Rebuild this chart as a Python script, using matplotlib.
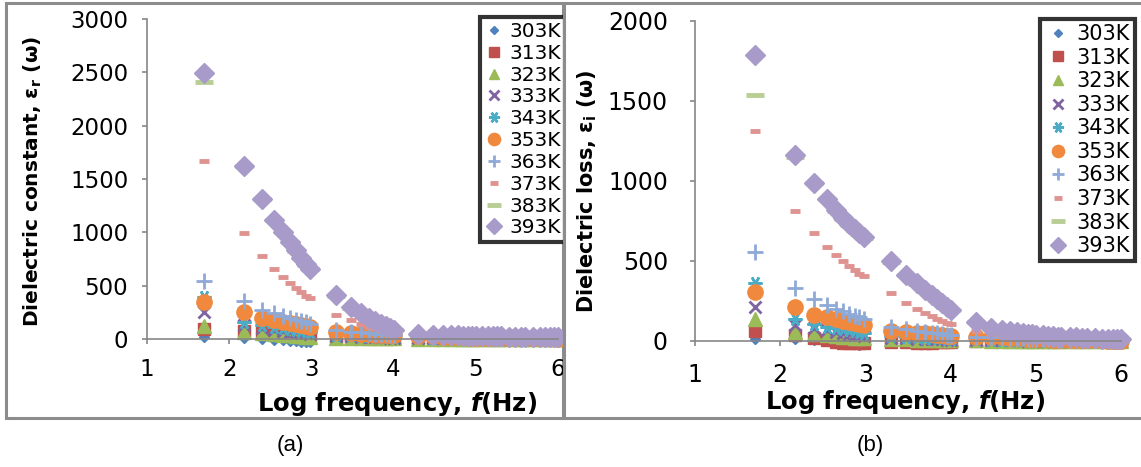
import matplotlib.pyplot as plt
import numpy as np
from matplotlib.patches import Rectangle

plt.rcParams['font.family'] = ['DejaVu Sans']
plt.rcParams['mathtext.fontset'] = 'dejavusans'

W, H = 1141, 467

# measurement frequencies (Hz)
freq = [50, 150, 250, 350, 450, 550, 650, 750, 850, 950,
        2e3, 3e3, 4e3, 5e3, 6e3, 7e3, 8e3, 9e3, 10e3,
        20e3, 30e3, 40e3, 50e3, 60e3, 70e3, 80e3, 90e3, 100e3, 120e3, 140e3, 160e3,
        180e3, 200e3, 250e3, 300e3, 350e3, 400e3, 500e3, 600e3, 700e3, 800e3, 900e3, 1e6]

temps = ["303K", "313K", "323K", "333K", "343K", "353K", "363K", "373K", "383K", "393K"]

# dielectric constant eps_r, panel (a)
er_303 = [15, 8, 0, -8, -12, -18, -22, -28, -30, -25,
          5, 3, 2, 1, 0, -2, -3, -5, -5,
          3, 3, 2, 2, 2, 2, 2, 1, 1, 1, 1, 1, 1, 1, 1, 1, 0, 0, 0, 0, 0, 0, 0, 0]
er_313 = [95, 75, 62, 55, 48, 44, 40, 36, 33, 30,
          20, 17, 15, 13, 12, 11, 10, 9, 8,
          6, 5, 5, 4, 4, 4, 3, 3, 3, 3, 3, 2, 2, 2, 2, 2, 2, 2, 1, 1, 1, 1, 1, 1]
er_323 = [120, 70, 52, 44, 38, 33, 29, 26, 23, 20,
          12, 10, 9, 8, 7, 7, 6, 6, 5,
          4, 4, 3, 3, 3, 3, 2, 2, 2, 2, 2, 2, 2, 2, 1, 1, 1, 1, 1, 1, 1, 1, 1, 1]
er_333 = [250, 130, 100, 88, 78, 70, 64, 58, 54, 50,
          30, 25, 22, 20, 18, 16, 15, 14, 13,
          10, 9, 8, 7, 7, 6, 6, 5, 5, 5, 4, 4, 4, 4, 3, 3, 3, 3, 3, 2, 2, 2, 2, 2]
er_343 = [395, 160, 130, 112, 100, 90, 84, 78, 73, 68,
          40, 35, 31, 28, 25, 23, 22, 20, 19,
          15, 13, 12, 11, 10, 9, 9, 8, 8, 7, 7, 6, 6, 6, 5, 5, 5, 4, 4, 4, 4, 3, 3, 3]
er_353 = [345, 255, 200, 180, 163, 150, 140, 130, 120, 112,
          65, 56, 50, 46, 42, 39, 37, 35, 33,
          28, 25, 22, 20, 18, 16, 15, 14, 13, 12, 11, 10, 10, 9, 8, 8, 7, 7, 6, 6, 5, 5, 5, 4]
er_363 = [545, 355, 272, 240, 215, 195, 180, 167, 155, 145,
          85, 70, 62, 56, 50, 46, 43, 40, 37,
          30, 27, 25, 23, 21, 20, 19, 18, 17, 16, 15, 14, 14, 13, 12, 12, 11, 11, 10, 10, 9, 9, 9, 8]
er_373 = [1670, 990, 780, 655, 580, 525, 480, 440, 400, 385,
          225, 175, 140, 115, 100, 88, 78, 68, 60,
          35, 28, 24, 21, 19, 17, 16, 15, 14, 13, 12, 11, 11, 10, 9, 9, 8, 8, 7, 7, 6, 6, 6, 5]
er_383 = [2410, 1620, 1310, 1120, 1000, 905, 825, 755, 695, 655,
          405, 295, 235, 195, 168, 145, 125, 105, 85,
          48, 41, 37, 34, 32, 30, 29, 28, 27, 26, 25, 24, 24, 23, 22, 21, 21, 20, 19, 19, 18, 18, 17, 17]
er_393 = [2490, 1620, 1310, 1120, 1000, 910, 830, 760, 700, 660,
          410, 300, 240, 200, 170, 145, 125, 105, 85,
          50, 42, 38, 35, 33, 31, 30, 29, 28, 27, 26, 25, 25, 24, 23, 22, 22, 21, 20, 20, 19, 19, 18, 18]

# dielectric loss eps_i, panel (b)
ei_303 = [15, 10, 5, 0, -5, -10, -15, -20, -25, -20,
          5, 3, 2, 0, -2, -3, -4, -5, -5,
          2, 2, 2, 1, 1, 1, 1, 1, 1, 1, 1, 0, 0, 0, 0, 0, 0, 0, 0, 0, 0, 0, 0, 0]
ei_313 = [60, 40, 20, 5, -5, -10, -12, -15, -15, -15,
          -5, -8, -12, -15, -10, -8, -6, -5, -5,
          -3, -2, -2, -1, -1, -1, -1, -1, 0, 0, 0, 0, 0, 0, 0, 0, 0, 0, 0, 0, 0, 0, 0, 0]
ei_323 = [140, 55, 42, 35, 30, 26, 23, 20, 18, 16,
          12, 10, 9, 8, 7, 6, 6, 5, 5,
          4, 3, 3, 3, 2, 2, 2, 2, 2, 2, 1, 1, 1, 1, 1, 1, 1, 1, 1, 1, 1, 1, 1, 1]
ei_333 = [215, 100, 80, 68, 58, 50, 45, 40, 36, 33,
          20, 17, 15, 13, 12, 11, 10, 9, 8,
          6, 5, 5, 4, 4, 4, 3, 3, 3, 3, 3, 2, 2, 2, 2, 2, 2, 1, 1, 1, 1, 1, 1, 1]
ei_343 = [360, 135, 105, 90, 80, 72, 66, 61, 56, 52,
          30, 26, 23, 21, 19, 17, 16, 15, 14,
          10, 9, 8, 7, 7, 6, 6, 5, 5, 5, 4, 4, 4, 4, 3, 3, 3, 3, 2, 2, 2, 2, 2, 2]
ei_353 = [305, 215, 165, 148, 135, 125, 117, 110, 104, 98,
          65, 58, 52, 48, 44, 40, 37, 34, 32,
          28, 25, 22, 20, 18, 16, 15, 13, 12, 11, 10, 9, 8, 7, 6, 6, 5, 5, 4, 4, 3, 3, 3, 2]
ei_363 = [555, 330, 262, 225, 200, 185, 170, 158, 148, 140,
          85, 73, 65, 58, 52, 48, 44, 40, 37,
          28, 24, 22, 20, 18, 16, 15, 14, 13, 12, 11, 10, 9, 9, 8, 7, 7, 6, 6, 5, 5, 5, 4, 4]
ei_373 = [1310, 810, 675, 590, 535, 500, 470, 445, 420, 405,
          300, 235, 200, 178, 158, 140, 125, 115, 105,
          60, 45, 38, 33, 28, 25, 22, 20, 18, 16, 14, 12, 11, 10, 9, 8, 7, 6, 5, 5, 4, 4, 3, 3]
ei_383 = [1540, 1150, 985, 885, 815, 765, 725, 695, 668, 645,
          495, 410, 355, 315, 285, 255, 235, 212, 192,
          118, 78, 68, 60, 54, 49, 45, 41, 38, 35, 32, 29, 27, 26, 23, 21, 19, 18, 16, 14, 13, 12, 11, 10]
ei_393 = [1790, 1160, 990, 890, 820, 770, 730, 700, 675, 650,
          500, 415, 360, 320, 290, 260, 240, 215, 195,
          120, 80, 70, 62, 56, 50, 46, 42, 40, 36, 33, 30, 28, 27, 24, 22, 20, 19, 17, 15, 14, 13, 12, 14]

er_all = [er_303, er_313, er_323, er_333, er_343, er_353, er_363, er_373, er_383, er_393]
ei_all = [ei_303, ei_313, ei_323, ei_333, ei_343, ei_353, ei_363, ei_373, ei_383, ei_393]

# marker, size, edge width, colour (Excel 2007 palette)
styles = [
    ("D", 5, 1, "#4F81BD"),
    ("s", 8.5, 1, "#C0504D"),
    ("^", 9.5, 1, "#9BBB59"),
    ("x", 9, 2, "#8064A2"),
    ((6, 2, 30), 10, 1.8, "#4BACC6"),
    ("o", 11, 1, "#F0893E"),
    ("+", 11, 2, "#8FA9D6"),
    ("_", 7.5, 3.5, "#DE9391"),
    ("_", 13, 3.5, "#B8CE94"),
    ("D", 10.5, 1, "#A99BC9"),
]


def fx(px):
    return px / W


def fy(py):
    return 1 - py / H


def draw_panel(ax, series, ymax, ystep, xpad, ypad, tsize):
    logf = np.log10(freq)
    for name, vals, (m, ms, mew, c) in zip(temps, series, styles):
        ax.plot(logf, vals, linestyle="none", marker=m, ms=ms, mew=mew,
                color=c, mec=c, label=name, clip_on=False)
    ax.set_xlim(1, 6)
    ax.set_ylim(0, ymax)
    ax.set_xticks(range(1, 7))
    ax.set_yticks(np.arange(0, ymax + 1, ystep))
    ax.set_facecolor("none")
    for s in ["top", "right"]:
        ax.spines[s].set_visible(False)
    for s in ["left", "bottom"]:
        ax.spines[s].set_color("#868686")
        ax.spines[s].set_linewidth(1.2)
    ax.tick_params(axis="both", direction="out", length=3.5, width=1.2,
                   color="#868686", labelsize=tsize)
    ax.tick_params(axis="x", pad=xpad)
    ax.tick_params(axis="y", pad=ypad)


def style_legend(leg):
    leg.get_frame().set_edgecolor("black")
    leg.get_frame().set_linewidth(3)


fig = plt.figure(figsize=(W / 100, H / 100), dpi=100)

# panel (a) frame
fig.add_artist(Rectangle((fx(6), fy(418)), fx(557), 415 / H, fill=False,
                         ec="#8c8c8c", lw=2.2, transform=fig.transFigure, zorder=0.5))

ax1 = fig.add_axes([fx(147), fy(339), fx(558 - 147), 320 / H], zorder=1)
draw_panel(ax1, er_all, 3000, 500, 10.5, 10, 16.5)
leg1 = ax1.legend(loc="upper left", bbox_to_anchor=(fx(480), fy(17)),
                  bbox_transform=fig.transFigure, fontsize=14.5, markerscale=0.8,
                  frameon=True, fancybox=False, borderpad=0.25, labelspacing=0.14,
                  handlelength=0.9, handletextpad=0.3, borderaxespad=0)
style_legend(leg1)

# panel (b) frame, drawn over the cut-off edge of panel (a)
fig.add_artist(Rectangle((fx(564), fy(418)), fx(600), 415 / H, fc="white",
                         ec="#8c8c8c", lw=2.2, transform=fig.transFigure, zorder=2))

ax2 = fig.add_axes([fx(695), fy(341), fx(1121 - 695), 320 / H], zorder=3)
draw_panel(ax2, ei_all, 2000, 500, 12, 16, 17)
leg2 = ax2.legend(loc="upper right", bbox_to_anchor=(fx(1135), fy(19)),
                  bbox_transform=fig.transFigure, fontsize=15, markerscale=0.8,
                  frameon=True, fancybox=False, borderpad=0.25, labelspacing=0.17,
                  handlelength=1.2, handletextpad=0.3, borderaxespad=0)
style_legend(leg2)

# axis titles
fig.text(fx(33), fy(181), r"Dielectric constant, $\mathbf{\varepsilon_r}$ (ω)",
         rotation=90, ha="center", va="center", fontsize=14.5, fontweight="bold", zorder=4)
fig.text(fx(397), fy(404), r"Log frequency, $\mathbfit{f}$(Hz)",
         ha="center", va="center", fontsize=17.5, fontweight="bold", zorder=4)
fig.text(fx(587), fy(191), r"Dielectric loss, $\mathbf{\varepsilon_i}$ (ω)",
         rotation=90, ha="center", va="center", fontsize=15, fontweight="bold", zorder=4)
fig.text(fx(905), fy(402), r"Log frequency, $\mathbfit{f}$(Hz)",
         ha="center", va="center", fontsize=17.5, fontweight="bold", zorder=4)

fig.text(fx(290), fy(445), "(a)", ha="center", va="center", fontsize=16,
         family="Liberation Sans")
fig.text(fx(870), fy(445), "(b)", ha="center", va="center", fontsize=16,
         family="Liberation Sans")

fig.savefig("out.png", dpi=100, facecolor="white")
